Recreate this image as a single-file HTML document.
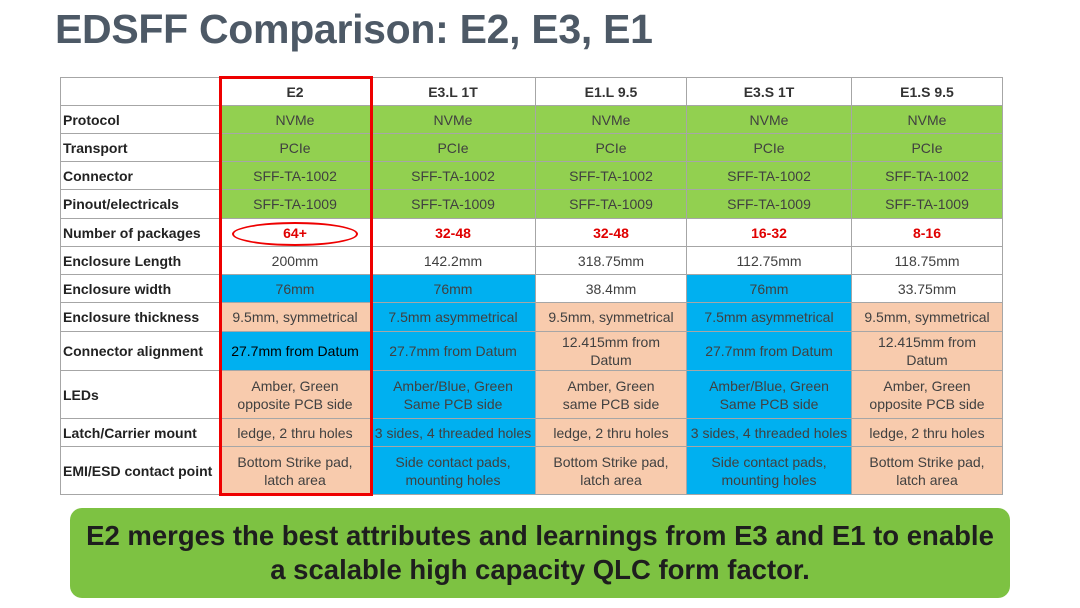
<!DOCTYPE html><html><head><style>
body{margin:0;width:1080px;height:608px;background:#fff;position:relative;font-family:"Liberation Sans",sans-serif;overflow:hidden}
h1{position:absolute;left:55px;top:6px;margin:0;font-size:41px;font-weight:bold;color:#4d5966;letter-spacing:-0.3px}
table{position:absolute;left:60px;top:77px;border-collapse:collapse;table-layout:fixed;width:942px}
td{border:1px solid #a6a6a6;text-align:center;font-size:14px;color:#404040;padding:0;line-height:18px}
td.l{text-align:left;font-weight:bold;color:#222;padding-left:2px}
.g{background:#92d050}.b{background:#00b0f0}.p{background:#f8cbad}
.r{color:#e00000;font-weight:bold}
th{font-size:14px;border:1px solid #a6a6a6;color:#333}
.box{position:absolute;left:219px;top:76px;width:148px;height:414px;border:3px solid #e00;}
.ell{position:absolute;left:232px;top:222px;width:122px;height:20px;border:2px solid #e00;border-radius:50%}
.ban{position:absolute;left:70px;top:508px;width:940px;height:90px;background:#7dc242;border-radius:12px;text-align:center;font-weight:bold;font-size:27.5px;color:#1e1e1e;line-height:34px;padding-top:11px;box-sizing:border-box}
</style></head><body>
<h1>EDSFF Comparison: E2, E3, E1</h1>
<table>
<col style="width:159px"><col style="width:151px"><col style="width:165px"><col style="width:151px"><col style="width:165px"><col style="width:151px">
<tr style="height:28px"><th></th><th>E2</th><th>E3.L 1T</th><th>E1.L 9.5</th><th>E3.S 1T</th><th>E1.S 9.5</th></tr>
<tr style="height:28px"><td class="l">Protocol</td><td class="g">NVMe</td><td class="g">NVMe</td><td class="g">NVMe</td><td class="g">NVMe</td><td class="g">NVMe</td></tr>
<tr style="height:28px"><td class="l">Transport</td><td class="g">PCIe</td><td class="g">PCIe</td><td class="g">PCIe</td><td class="g">PCIe</td><td class="g">PCIe</td></tr>
<tr style="height:28px"><td class="l">Connector</td><td class="g">SFF-TA-1002</td><td class="g">SFF-TA-1002</td><td class="g">SFF-TA-1002</td><td class="g">SFF-TA-1002</td><td class="g">SFF-TA-1002</td></tr>
<tr style="height:29px"><td class="l">Pinout/electricals</td><td class="g">SFF-TA-1009</td><td class="g">SFF-TA-1009</td><td class="g">SFF-TA-1009</td><td class="g">SFF-TA-1009</td><td class="g">SFF-TA-1009</td></tr>
<tr style="height:28px"><td class="l">Number of packages</td><td class="r">64+</td><td class="r">32-48</td><td class="r">32-48</td><td class="r">16-32</td><td class="r">8-16</td></tr>
<tr style="height:28px"><td class="l">Enclosure Length</td><td>200mm</td><td>142.2mm</td><td>318.75mm</td><td>112.75mm</td><td>118.75mm</td></tr>
<tr style="height:28px"><td class="l">Enclosure width</td><td class="b">76mm</td><td class="b">76mm</td><td>38.4mm</td><td class="b">76mm</td><td>33.75mm</td></tr>
<tr style="height:29px"><td class="l">Enclosure thickness</td><td class="p">9.5mm, symmetrical</td><td class="b">7.5mm asymmetrical</td><td class="p">9.5mm, symmetrical</td><td class="b">7.5mm asymmetrical</td><td class="p">9.5mm, symmetrical</td></tr>
<tr style="height:39px"><td class="l">Connector alignment</td><td class="b" style="color:#000">27.7mm from Datum</td><td class="b">27.7mm from Datum</td><td class="p">12.415mm from<br>Datum</td><td class="b">27.7mm from Datum</td><td class="p">12.415mm from<br>Datum</td></tr>
<tr style="height:48px"><td class="l">LEDs</td><td class="p">Amber, Green<br>opposite PCB side</td><td class="b">Amber/Blue, Green<br>Same PCB side</td><td class="p">Amber, Green<br>same PCB side</td><td class="b">Amber/Blue, Green<br>Same PCB side</td><td class="p">Amber, Green<br>opposite PCB side</td></tr>
<tr style="height:28px"><td class="l">Latch/Carrier mount</td><td class="p">ledge, 2 thru holes</td><td class="b">3 sides, 4 threaded holes</td><td class="p">ledge, 2 thru holes</td><td class="b">3 sides, 4 threaded holes</td><td class="p">ledge, 2 thru holes</td></tr>
<tr style="height:48px"><td class="l">EMI/ESD contact point</td><td class="p">Bottom Strike pad,<br>latch area</td><td class="b">Side contact pads,<br>mounting holes</td><td class="p">Bottom Strike pad,<br>latch area</td><td class="b">Side contact pads,<br>mounting holes</td><td class="p">Bottom Strike pad,<br>latch area</td></tr>
</table>
<div class="box"></div><div class="ell"></div>
<div class="ban">E2 merges the best attributes and learnings from E3 and E1 to enable<br>a scalable high capacity QLC form factor.</div>
</body></html>
